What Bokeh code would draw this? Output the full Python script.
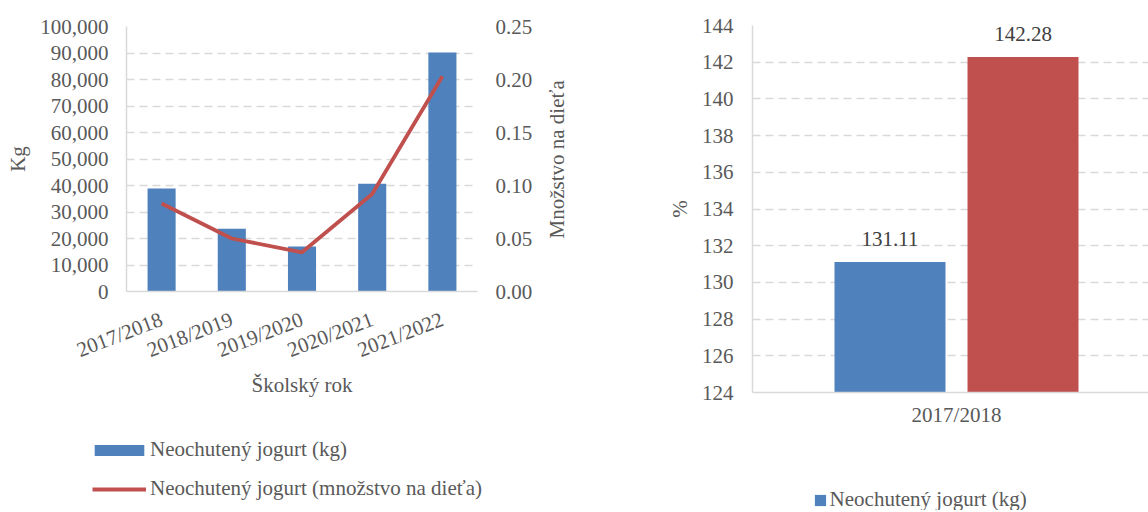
import math
from bokeh.plotting import figure
from bokeh.models import (Range1d, LinearAxis, SingleIntervalTicker, FixedTicker,
                          NumeralTickFormatter, Legend, LegendItem, ColumnDataSource,
                          FactorRange)
from bokeh.layouts import row, column
from bokeh.embed import file_html
from bokeh.resources import INLINE
from bokeh.core.properties import value

# ---------------- data ----------------
years = ["2017/2018", "2018/2019", "2019/2020", "2020/2021", "2021/2022"]
kg_values = [38900, 23700, 17000, 40700, 90200]
per_child = [0.083, 0.050, 0.037, 0.092, 0.203]

cmp_years = ["2017/2018"]
pct_first = [131.11]
pct_second = [142.28]

kg_label = "Neochutený jogurt (kg)"
per_label = "Neochutený jogurt (množstvo na dieťa)"
x_title = "Školský rok"
y_title_left = "Kg"
y_title_right = "Množstvo na dieťa"
y_title_pct = "%"

# ---------------- style ----------------
FONT = "Liberation Serif"
TXT = "#595959"
GRID = "#D9D9D9"
BLUE = "#4F81BD"
RED = "#C0504D"
FS = "21px"


def style_axis(ax, standoff, label_standoff=8):
    ax.major_label_text_font = FONT
    ax.major_label_text_font_size = FS
    ax.major_label_text_color = TXT
    ax.axis_label_text_font = FONT
    ax.axis_label_text_font_size = FS
    ax.axis_label_text_color = TXT
    ax.axis_label_text_font_style = "normal"
    ax.major_tick_line_color = None
    ax.minor_tick_line_color = None
    ax.major_tick_out = 0
    ax.major_tick_in = 0
    ax.minor_tick_out = 0
    ax.minor_tick_in = 0
    ax.major_label_standoff = standoff
    ax.axis_label_standoff = label_standoff
    ax.axis_line_color = GRID
    ax.axis_line_width = 1.5


def style_legend(lg):
    lg.label_text_font = FONT
    lg.label_text_font_size = FS
    lg.label_text_color = TXT
    lg.border_line_color = None
    lg.background_fill_alpha = 0
    lg.padding = 0
    lg.margin = 0
    lg.spacing = 0


def legend_panel(x_range, width, height):
    # a strip that only carries a legend; its y range lies far above every
    # value, so the proxy renderers that feed the legend draw nothing in it
    f = figure(x_range=x_range, y_range=Range1d(1e7, 2e7),
               frame_width=width, frame_height=height,
               min_border=0, x_axis_location=None, y_axis_location=None,
               output_backend="svg", toolbar_location=None)
    f.grid.visible = False
    f.outline_line_color = None
    return f


# ---------------- left chart ----------------
p1 = figure(x_range=FactorRange(*years), y_range=Range1d(0, 100000),
            frame_width=351, frame_height=265,
            min_border_left=126, min_border_right=163,
            min_border_top=26, min_border_bottom=129,
            output_backend="svg", toolbar_location=None)
p1.extra_y_ranges = {"per": Range1d(0, 0.25)}
p1.outline_line_color = None
p1.xgrid.grid_line_color = None
p1.ygrid.grid_line_color = GRID
p1.ygrid.grid_line_dash = "8 5"
p1.ygrid.grid_line_width = 1.3
p1.yaxis.ticker = SingleIntervalTicker(interval=10000)
p1.ygrid.ticker = SingleIntervalTicker(interval=10000)

src1 = ColumnDataSource(dict(year=years, kg=kg_values, per=per_child))
p1.vbar(x="year", top="kg", width=0.4, source=src1,
        fill_color=BLUE, line_color=None)
p1.line(x="year", y="per", y_range_name="per", source=src1,
        line_color=RED, line_width=3.8, line_join="round")

p1.yaxis.formatter = NumeralTickFormatter(format="0,0")
p1.yaxis.axis_label = y_title_left
style_axis(p1.yaxis[0], 18, 7)

ax_r = LinearAxis(y_range_name="per", ticker=SingleIntervalTicker(interval=0.05),
                  formatter=NumeralTickFormatter(format="0.00"))
style_axis(ax_r, 18)
ax_r.axis_line_color = None
p1.add_layout(ax_r, "right")

# secondary-axis title, read bottom-to-top (a rotated label that starts
# at 0.05 on the secondary scale)
ax_t = LinearAxis(y_range_name="per", ticker=FixedTicker(ticks=[0.05]),
                  major_label_overrides={0.05: y_title_right})
style_axis(ax_t, 21)
ax_t.axis_line_color = None
ax_t.major_label_orientation = math.pi / 2
p1.add_layout(ax_t, "right")

p1.xaxis.axis_label = x_title
style_axis(p1.xaxis[0], 27, -3)
p1.xaxis.major_label_orientation = math.radians(21)

# legend strip of the left chart
L1 = legend_panel(FactorRange(*years), 640, 90)
proxy_bar = L1.vbar(x="year", top="kg", width=0.4, source=src1,
                    fill_color=BLUE, line_color=None)
proxy_line = L1.line(x="year", y="per", source=src1,
                     line_color=RED, line_width=3.8)
lg1 = Legend(items=[LegendItem(label=kg_label, renderers=[proxy_bar])],
             location=(88, 48), glyph_width=62, glyph_height=14,
             label_standoff=0)
style_legend(lg1)
L1.add_layout(lg1, "center")
lg2 = Legend(items=[LegendItem(label=per_label, renderers=[proxy_line])],
             location=(92, 9), glyph_width=54, glyph_height=14,
             label_standoff=4)
style_legend(lg2)
L1.add_layout(lg2, "center")

# ---------------- right chart ----------------
idx = list(range(len(cmp_years)))
p2 = figure(x_range=Range1d(-0.5, -0.5 + 396 / 408), y_range=Range1d(124, 144),
            frame_width=396, frame_height=367,
            min_border_left=112, min_border_right=0,
            min_border_top=25, min_border_bottom=48,
            output_backend="svg", toolbar_location=None)
p2.outline_line_color = None
p2.xgrid.grid_line_color = None
p2.ygrid.grid_line_color = GRID
p2.ygrid.grid_line_dash = "8 5"
p2.ygrid.grid_line_width = 1.3
p2.yaxis.ticker = SingleIntervalTicker(interval=2)
p2.ygrid.ticker = SingleIntervalTicker(interval=2)

src2 = ColumnDataSource(dict(
    xa=[i - 0.163 for i in idx], xb=[i + 0.163 for i in idx],
    a=pct_first, b=pct_second,
    la=[f"{v:.2f}" for v in pct_first], lb=[f"{v:.2f}" for v in pct_second]))
p2.vbar(x="xa", top="a", bottom=0, width=0.272, source=src2,
        fill_color=BLUE, line_color=None)
p2.vbar(x="xb", top="b", bottom=0, width=0.272, source=src2,
        fill_color=RED, line_color=None)
for xc, yc, lc in (("xa", "a", "la"), ("xb", "b", "lb")):
    p2.text(x=xc, y=yc, text=lc, source=src2, text_align="center",
            text_baseline="middle", y_offset=-23,
            text_font=value(FONT), text_font_size=FS, text_color="#404040")

p2.yaxis.axis_label = y_title_pct
style_axis(p2.yaxis[0], 19, 7)
p2.xaxis.ticker = FixedTicker(ticks=idx)
p2.xaxis.major_label_overrides = {i: cmp_years[i] for i in idx}
style_axis(p2.xaxis[0], 10, 0)

L2 = legend_panel(Range1d(-0.5, 0.5), 508, 70)
proxy_bar2 = L2.vbar(x="xa", top="a", bottom=0, width=0.272, source=src2,
                     fill_color=BLUE, line_color=None)
lg3 = Legend(items=[LegendItem(label=kg_label, renderers=[proxy_bar2])],
             location=(172.6, -2), glyph_width=14, glyph_height=14,
             label_standoff=3)
style_legend(lg3)
L2.add_layout(lg3, "center")

layout = row(column(p1, L1), column(p2, L2))
open("out.html", "w").write(file_html(layout, INLINE))
